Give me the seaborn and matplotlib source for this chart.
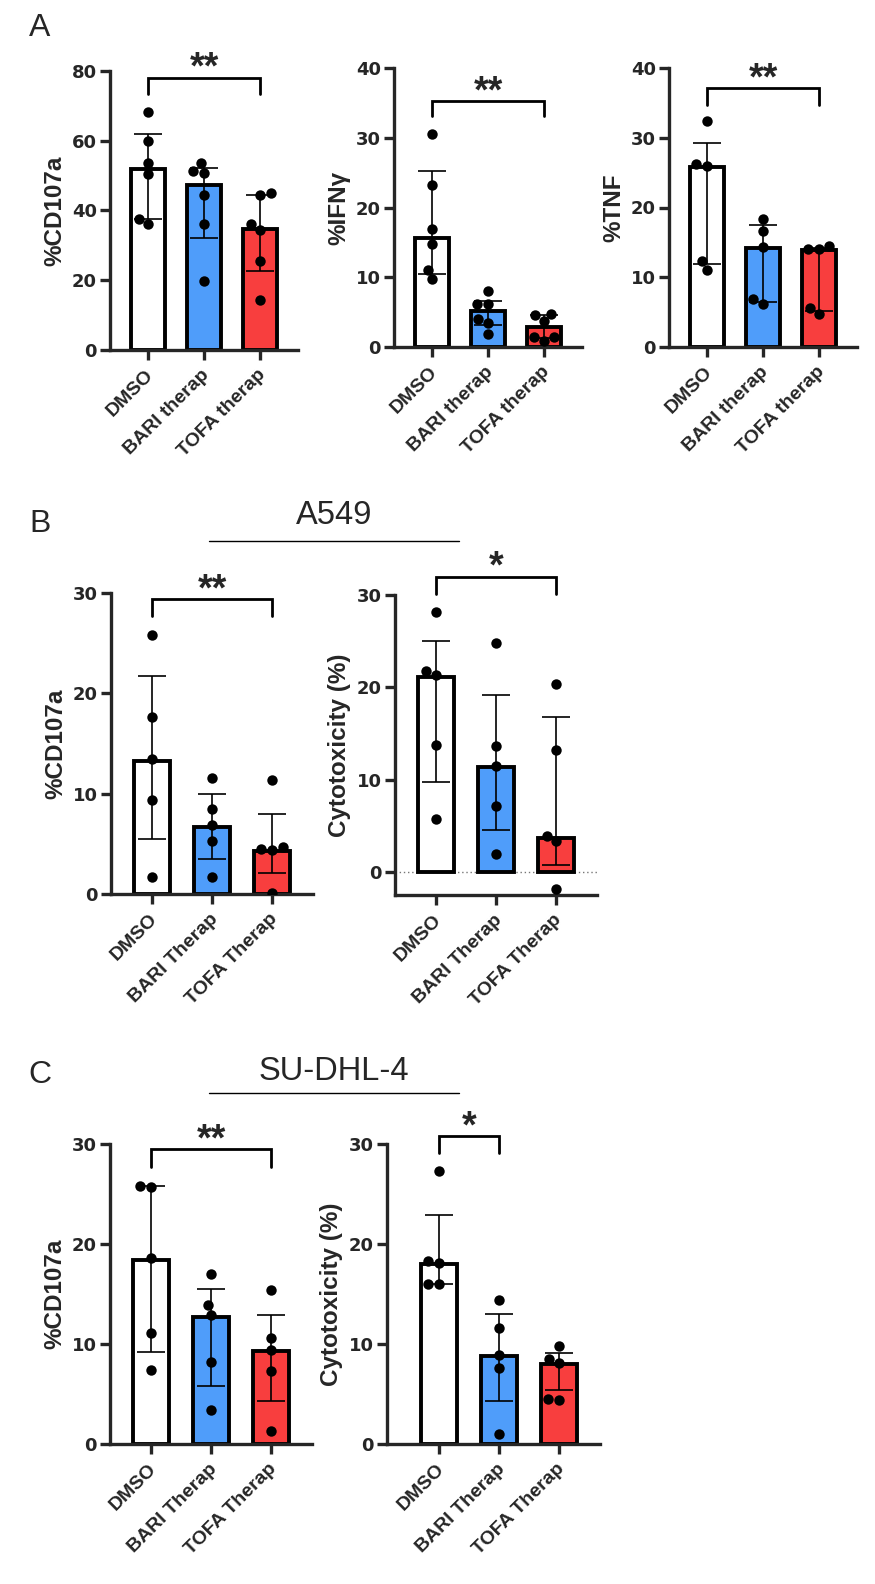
import numpy as np
import pandas as pd
import seaborn as sns
import matplotlib.pyplot as plt
from matplotlib.lines import Line2D
from matplotlib.transforms import offset_copy

# group names
groups_a = ["DMSO", "BARI therap", "TOFA therap"]
groups_bc = ["DMSO", "BARI Therap", "TOFA Therap"]

# panel A - %CD107a
a_cd_pts = [[68.3, 59.9, 53.7, 50.4, 37.5, 36.0],
            [53.7, 51.3, 50.8, 44.3, 36.0, 19.9],
            [44.4, 44.9, 34.4, 36.0, 25.6, 14.3]]
a_cd_bar = [51.8, 47.3, 34.7]
a_cd_lo = [37.4, 32.0, 22.7]
a_cd_hi = [61.9, 52.0, 44.4]

# panel A - %IFNg
a_ifn_pts = [[30.6, 23.3, 16.9, 14.8, 11.1, 9.7],
             [8.0, 6.2, 6.1, 4.0, 3.5, 1.8],
             [4.6, 4.8, 3.7, 0.8, 1.5, 1.5]]
a_ifn_bar = [15.6, 5.1, 2.9]
a_ifn_lo = [10.5, 3.1, 1.3]
a_ifn_hi = [25.2, 6.6, 4.6]

# panel A - %TNF
a_tnf_pts = [[32.4, 26.0, 26.3, 12.3, 11.0],
             [18.3, 16.7, 14.4, 6.2, 6.9],
             [14.5, 14.0, 14.0, 4.8, 5.6]]
a_tnf_bar = [25.8, 14.2, 13.9]
a_tnf_lo = [11.9, 6.5, 5.1]
a_tnf_hi = [29.3, 17.5, 14.2]

# panel B - A549
b_cd_pts = [[25.8, 17.6, 13.5, 9.4, 1.7],
            [11.6, 8.5, 6.9, 5.3, 1.7],
            [11.4, 4.7, 4.4, 4.5, 0.1]]
b_cd_bar = [13.3, 6.7, 4.3]
b_cd_lo = [5.5, 3.5, 2.1]
b_cd_hi = [21.7, 10.0, 8.0]

b_cyt_pts = [[28.2, 21.3, 21.8, 13.7, 5.7],
             [24.8, 13.6, 11.5, 7.1, 1.9],
             [20.4, 13.2, 3.9, 3.3, -1.8]]
b_cyt_bar = [21.1, 11.4, 3.7]
b_cyt_lo = [9.7, 4.5, 0.7]
b_cyt_hi = [25.0, 19.2, 16.8]

# panel C - SU-DHL-4
c_cd_pts = [[25.8, 25.7, 18.6, 11.1, 7.4],
            [17.0, 13.9, 12.9, 8.2, 3.4],
            [15.4, 10.6, 9.4, 7.3, 1.3]]
c_cd_bar = [18.4, 12.7, 9.3]
c_cd_lo = [9.2, 5.8, 4.3]
c_cd_hi = [25.8, 15.5, 12.9]

c_cyt_pts = [[27.3, 18.1, 18.3, 16.0, 16.0],
             [14.4, 11.6, 8.9, 7.6, 1.0],
             [9.8, 8.1, 8.5, 4.4, 4.5]]
c_cyt_bar = [18.0, 8.8, 8.0]
c_cyt_lo = [16.0, 4.3, 5.4]
c_cyt_hi = [22.9, 13.0, 9.1]

colors = ["white", "#4F9DFA", "#F83E3E"]

sns.set_theme(style="ticks")
plt.rcParams['font.family'] = ['Liberation Sans', 'DejaVu Sans']

W, H = 875, 1584
fig = plt.figure(figsize=(W / 100, H / 100), dpi=100)


def px_axes(left, right, top, bottom):
    return fig.add_axes([left / W, 1 - bottom / H, (right - left) / W, (bottom - top) / H])


def draw(ax, groups, pts, bar, lo, hi, ylim, yticks, ylabel, xlim=(-0.68, 2.68)):
    bar = np.array(bar)
    sns.barplot(x=groups, y=bar, hue=groups, palette=colors, order=groups, width=0.6,
                saturation=1, edgecolor="black", linewidth=2.8, errorbar=None,
                legend=False, ax=ax, zorder=2)
    ax.errorbar(range(3), bar, yerr=[bar - np.array(lo), np.array(hi) - bar], fmt="none",
                ecolor="black", elinewidth=1.2, capsize=10, capthick=1.2, zorder=3)
    df = pd.DataFrame({"group": np.repeat(groups, [len(p) for p in pts]),
                       "value": np.concatenate(pts)})
    sns.swarmplot(data=df, x="group", y="value", order=groups, color="black", size=7.5,
                  ax=ax, zorder=4)
    ax.set_xlim(*xlim)
    ax.set_ylim(*ylim)
    ax.set_xlabel("")
    ax.set_ylabel(ylabel, fontsize=17.5, fontweight="bold", labelpad=4,
                  family="Liberation Sans")
    for s in ["top", "right"]:
        ax.spines[s].set_visible(False)
    for s in ["left", "bottom"]:
        ax.spines[s].set_linewidth(2.4)
    ax.tick_params(axis="both", width=2.4, length=7.5, direction="out", pad=2)
    ax.set_yticks(yticks, [str(t) for t in yticks], fontsize=13, fontweight="bold",
                  family="DejaVu Sans")
    ax.set_xticks(range(3), groups, fontsize=14, fontweight="bold", rotation=45,
                  ha="right", va="top", rotation_mode="anchor", family="Liberation Sans")
    for lab in ax.get_xticklabels():
        lab.set_transform(offset_copy(lab.get_transform(), fig=fig, x=-3, y=-3, units="dots"))


def bracket(ax, x1, x2, yb, yl, txt):
    ax.plot([x1, x1, x2, x2], [yl, yb, yb, yl], color="black", lw=2.0, clip_on=False,
            solid_joinstyle="miter")
    ax.text((x1 + x2) / 2, yb, txt, ha="center", va="baseline", fontsize=27,
            fontweight="bold", transform=offset_copy(ax.transData, fig=fig, x=0, y=-1, units="dots"))


ax1 = px_axes(110, 298, 70.7, 350)
draw(ax1, groups_a, a_cd_pts, a_cd_bar, a_cd_lo, a_cd_hi, (0, 80), [0, 20, 40, 60, 80], "%CD107a")
bracket(ax1, 0, 2, 78.0, 73.3, "**")

ax2 = px_axes(394, 582, 68.3, 347)
draw(ax2, groups_a, a_ifn_pts, a_ifn_bar, a_ifn_lo, a_ifn_hi, (0, 40), [0, 10, 20, 30, 40], "%IFNγ")
bracket(ax2, 0, 2, 35.3, 33.1, "**")

ax3 = px_axes(669, 857, 68, 347)
draw(ax3, groups_a, a_tnf_pts, a_tnf_bar, a_tnf_lo, a_tnf_hi, (0, 40), [0, 10, 20, 30, 40], "%TNF")
bracket(ax3, 0, 2, 37.1, 34.7, "**")

ax4 = px_axes(111, 313, 593, 894)
draw(ax4, groups_bc, b_cd_pts, b_cd_bar, b_cd_lo, b_cd_hi, (0, 30), [0, 10, 20, 30], "%CD107a")
bracket(ax4, 0, 2, 29.4, 27.7, "**")

ax5 = px_axes(395, 597, 595, 895)
draw(ax5, groups_bc, b_cyt_pts, b_cyt_bar, b_cyt_lo, b_cyt_hi, (-2.5, 30), [0, 10, 20, 30], "Cytotoxicity (%)")
ax5.axhline(0, color="#777777", lw=1.0, ls=(0, (1, 2)), zorder=1)
bracket(ax5, 0, 2, 32.0, 30.1, "*")

ax6 = px_axes(110, 312, 1144, 1444)
draw(ax6, groups_bc, c_cd_pts, c_cd_bar, c_cd_lo, c_cd_hi, (0, 30), [0, 10, 20, 30], "%CD107a")
bracket(ax6, 0, 2, 29.5, 27.7, "**")

ax7 = px_axes(387, 600, 1144, 1444)
draw(ax7, groups_bc, c_cyt_pts, c_cyt_bar, c_cyt_lo, c_cyt_hi, (0, 30), [0, 10, 20, 30], "Cytotoxicity (%)",
     xlim=(-0.87, 2.68))
bracket(ax7, 0, 1, 30.8, 29.1, "*")

# panel letters and cell line headers
for lab, y in [("A", 28), ("B", 524), ("C", 1075)]:
    fig.text(40 / W, 1 - y / H, lab, fontsize=23, ha="center", va="center")

for title, ty, ly in [("A549", 516, 541), ("SU-DHL-4", 1072, 1093)]:
    fig.text(334 / W, 1 - ty / H, title, fontsize=23.5, ha="center", va="center")
    fig.add_artist(Line2D([209 / W, 459 / W], [1 - ly / H, 1 - ly / H], color="black", lw=1.0))

fig.savefig("out.png", dpi=100)
